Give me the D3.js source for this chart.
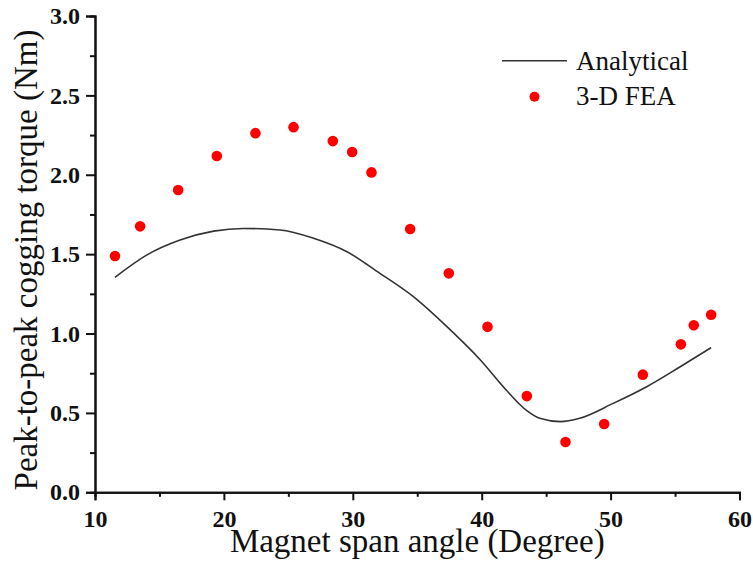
<!DOCTYPE html>
<html>
<head>
<meta charset="utf-8">
<script src="https://cdn.jsdelivr.net/npm/d3@7/dist/d3.min.js"></script>
<style>
  html, body { margin: 0; padding: 0; background: #fff; }
  svg { display: block; }
</style>
</head>
<body>
<svg id="chart" width="753" height="562"></svg>
<script>
// ---- Data ----
const feaAngles = [11.55, 13.5, 16.45, 19.45, 22.45, 25.4, 28.45, 29.95, 31.45, 34.45, 37.45, 40.45, 43.5, 46.5, 49.5, 52.5, 55.45, 56.45, 57.8];
const feaTorque = [1.488, 1.675, 1.904, 2.118, 2.262, 2.300, 2.212, 2.143, 2.015, 1.658, 1.379, 1.042, 0.606, 0.317, 0.430, 0.741, 0.932, 1.052, 1.118];

const anaAngles = [11.55, 14.0, 16.6, 19.2, 21.5, 24.35, 26.95, 29.55, 32.1, 34.7, 37.3, 39.9, 41.9, 43.5, 44.5, 46.1, 47.6, 50.2, 52.8, 55.4, 57.8];
const anaTorque = [1.354, 1.494, 1.589, 1.645, 1.662, 1.652, 1.600, 1.515, 1.379, 1.232, 1.043, 0.833, 0.644, 0.514, 0.466, 0.445, 0.466, 0.560, 0.665, 0.791, 0.911];

const xTicks = [10, 20, 30, 40, 50, 60];
const xMinorTicks = [15, 25, 35, 45, 55];
const yTicks = [0.0, 0.5, 1.0, 1.5, 2.0, 2.5, 3.0];
const yMinorTicks = [0.25, 0.75, 1.25, 1.75, 2.25, 2.75];

const seriesNames = ["Analytical", "3-D FEA"];
const xTitle = "Magnet span angle (Degree)";
const yTitle = "Peak-to-peak cogging torque (Nm)";

// ---- Chart ----
const svg = d3.select("#chart");
const FONT = "'Liberation Serif', 'Times New Roman', serif";

const x = d3.scaleLinear().domain([10, 60]).range([95, 739.5]);
const y = d3.scaleLinear().domain([0, 3]).range([492.3, 16]);

// Axes
const xAxis = svg.append("g").attr("transform", `translate(0,${y(0)})`);
xAxis.call(d3.axisBottom(x).tickValues(xTicks).tickSize(8).tickPadding(10).tickFormat(d3.format("d")));
const xMinor = svg.append("g").attr("transform", `translate(0,${y(0)})`);
xMinor.call(d3.axisBottom(x).tickValues(xMinorTicks).tickSize(4.5).tickFormat(""));

const yAxis = svg.append("g").attr("transform", `translate(${x(10)},0)`);
yAxis.call(d3.axisLeft(y).tickValues(yTicks).tickSize(9).tickPadding(6).tickFormat(d3.format(".1f")));
const yMinor = svg.append("g").attr("transform", `translate(${x(10)},0)`);
yMinor.call(d3.axisLeft(y).tickValues(yMinorTicks).tickSize(5).tickFormat(""));

[xAxis, xMinor, yAxis, yMinor].forEach(g => {
  g.select(".domain").attr("stroke", "#111").attr("stroke-width", 2);
  g.selectAll(".tick line").attr("stroke", "#111").attr("stroke-width", 2);
  g.selectAll(".tick text")
    .attr("fill", "#111")
    .style("font-family", FONT)
    .style("font-size", "24px")
    .style("font-weight", "bold");
});

// Axis titles
svg.append("text")
  .attr("x", (x(10) + x(60)) / 2)
  .attr("y", 552)
  .attr("text-anchor", "middle")
  .style("font-family", FONT)
  .style("font-size", "33px")
  .attr("fill", "#111")
  .text(xTitle);

svg.append("text")
  .attr("transform", `translate(37,${260}) rotate(-90)`)
  .attr("text-anchor", "middle")
  .style("font-family", FONT)
  .style("font-size", "33px")
  .attr("fill", "#111")
  .text(yTitle);

// Analytical line
const anaData = anaAngles.map((a, i) => ({ a, t: anaTorque[i] }));
svg.append("path")
  .datum(anaData)
  .attr("fill", "none")
  .attr("stroke", "#333")
  .attr("stroke-width", 1.6)
  .attr("d", d3.line().x(d => x(d.a)).y(d => y(d.t)).curve(d3.curveMonotoneX));

// FEA points
const feaData = feaAngles.map((a, i) => ({ a, t: feaTorque[i] }));
svg.append("g").selectAll("circle")
  .data(feaData)
  .join("circle")
  .attr("cx", d => x(d.a))
  .attr("cy", d => y(d.t))
  .attr("r", 5.3)
  .attr("fill", "#f00");

// Legend
const legend = svg.append("g");
legend.append("line")
  .attr("x1", 502).attr("x2", 567).attr("y1", 60.7).attr("y2", 60.7)
  .attr("stroke", "#333").attr("stroke-width", 1.6);
legend.append("text")
  .attr("x", 576).attr("y", 69.5)
  .style("font-family", FONT).style("font-size", "27px").attr("fill", "#111")
  .text(seriesNames[0]);
legend.append("circle")
  .attr("cx", 534.5).attr("cy", 96.7).attr("r", 5)
  .attr("fill", "#f00");
legend.append("text")
  .attr("x", 576).attr("y", 105)
  .style("font-family", FONT).style("font-size", "27px").attr("fill", "#111")
  .text(seriesNames[1]);
</script>
</body>
</html>
